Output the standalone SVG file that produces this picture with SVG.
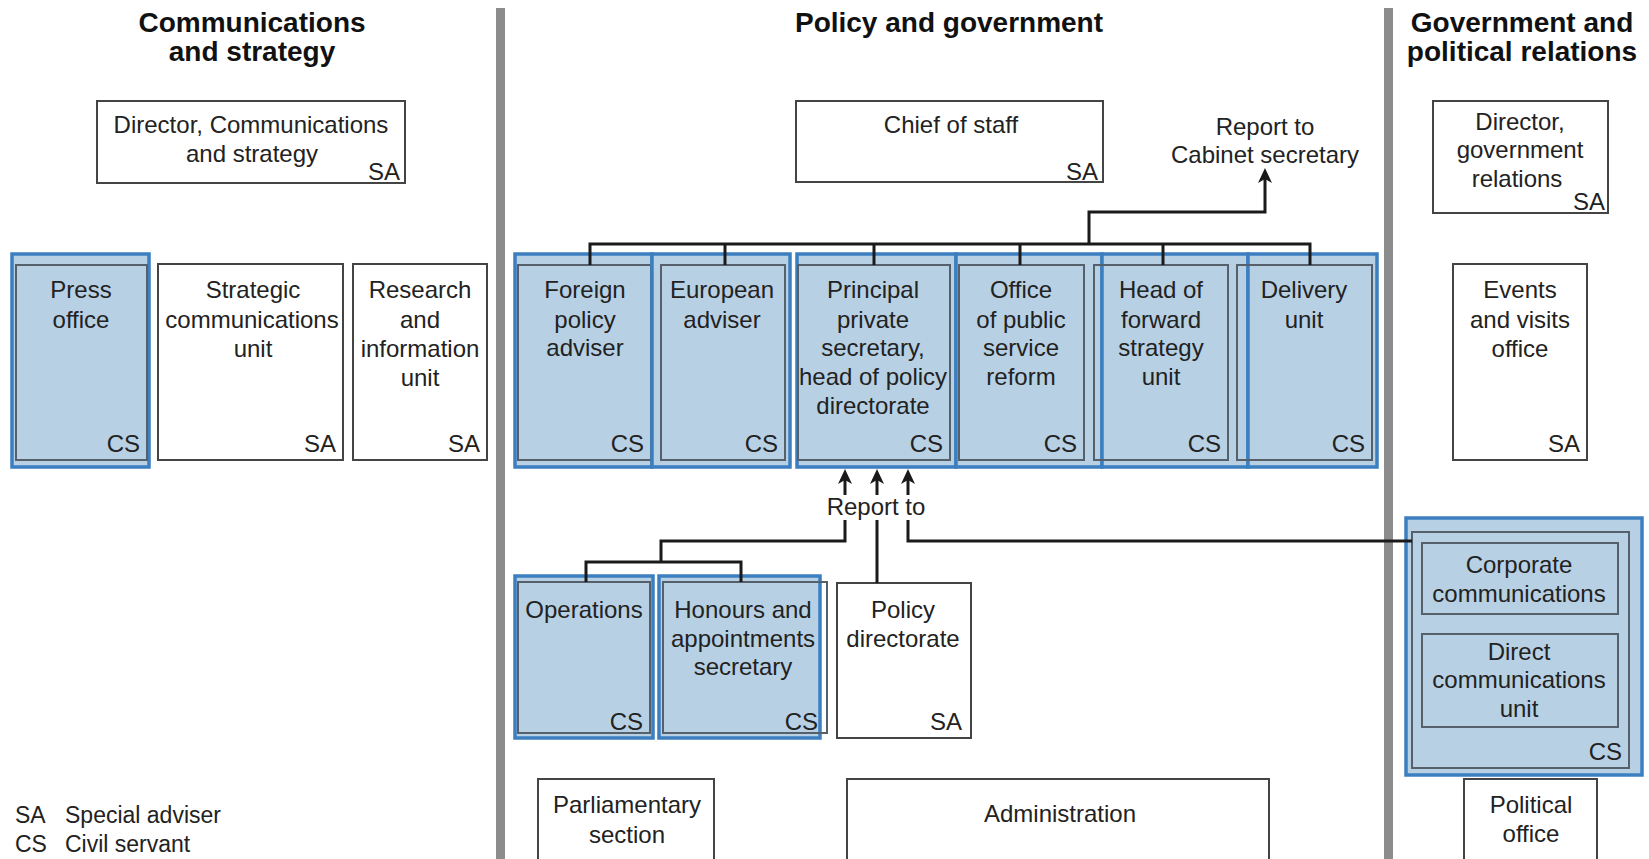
<svg xmlns="http://www.w3.org/2000/svg" width="1649" height="859" viewBox="0 0 1649 859">
<defs>
<style>
text{font-family:"Liberation Sans",Arial,sans-serif;font-size:24px;fill:#222;text-anchor:middle}
.h{font-weight:bold;font-size:28px;fill:#111}
.e{text-anchor:end}
.s{text-anchor:start}
.lg{font-size:23px}
.box{fill:#fff;stroke:#444;stroke-width:2}
.blue{fill:#b7d0e4;stroke:#3b7fc0;stroke-width:3.5}
.inner{fill:none;stroke:#56606a;stroke-width:2}
.con{fill:none;stroke:#1a1a1a;stroke-width:3}
.div{fill:#8c8c8c}
</style>
<marker id="arr" markerUnits="userSpaceOnUse" markerWidth="16" markerHeight="14" viewBox="0 0 16 14" refX="7" refY="7" orient="auto">
<path d="M0,0 L15,7 L0,14 L4,7 z" fill="#1a1a1a"/>
</marker>
</defs>
<rect width="1649" height="859" fill="#fff"/>

<g id="dividers">
<rect class="div" x="496" y="8" width="9" height="851"/>
<rect class="div" x="1384" y="8" width="9" height="851"/>
</g>

<g id="titles">
<text class="h" x="252" y="32">Communications</text>
<text class="h" x="252" y="61">and strategy</text>
<text class="h" x="949" y="32">Policy and government</text>
<text class="h" x="1522" y="32">Government and</text>
<text class="h" x="1522" y="61">political relations</text>
</g>

<!-- Communications and strategy -->
<g id="director-comms">
<rect class="box" x="97" y="101" width="308" height="82"/>
<text x="251" y="133">Director, Communications</text>
<text x="252" y="162">and strategy</text>
<text class="e" x="400" y="180">SA</text>
</g>
<g id="press-office">
<rect class="blue" x="12" y="254" width="137" height="213"/>
<rect class="inner" x="16" y="265" width="131" height="195"/>
<text x="81" y="298">Press</text>
<text x="81" y="328">office</text>
<text class="e" x="140" y="452">CS</text>
</g>
<g id="strategic-comms">
<rect class="box" x="158" y="264" width="185" height="196"/>
<text x="253" y="298">Strategic</text>
<text x="252" y="328">communications</text>
<text x="253" y="357">unit</text>
<text class="e" x="336" y="452">SA</text>
</g>
<g id="research">
<rect class="box" x="353" y="264" width="134" height="196"/>
<text x="420" y="298">Research</text>
<text x="420" y="328">and</text>
<text x="420" y="357">information</text>
<text x="420" y="386">unit</text>
<text class="e" x="480" y="452">SA</text>
</g>

<!-- Policy and government -->
<g id="chief-of-staff">
<rect class="box" x="796" y="101" width="307" height="81"/>
<text x="951" y="133">Chief of staff</text>
<text class="e" x="1098" y="180">SA</text>
</g>
<g id="report-cabinet">
<text x="1265" y="135">Report to</text>
<text x="1265" y="163">Cabinet secretary</text>
</g>
<g id="foreign-policy">
<rect class="blue" x="515" y="254" width="137" height="213"/>
<rect class="inner" x="518" y="265" width="133" height="195"/>
<text x="585" y="298">Foreign</text>
<text x="585" y="328">policy</text>
<text x="585" y="356">adviser</text>
<text class="e" x="644" y="452">CS</text>
</g>
<g id="european-adviser">
<rect class="blue" x="652" y="254" width="138" height="213"/>
<rect class="inner" x="661" y="265" width="124" height="195"/>
<text x="722" y="298">European</text>
<text x="722" y="328">adviser</text>
<text class="e" x="778" y="452">CS</text>
</g>
<g id="principal-private-secretary">
<rect class="blue" x="797" y="254" width="159" height="213"/>
<rect class="inner" x="798" y="265" width="152" height="195"/>
<text x="873" y="298">Principal</text>
<text x="873" y="328">private</text>
<text x="873" y="356">secretary,</text>
<text x="873" y="385">head of policy</text>
<text x="873" y="414">directorate</text>
<text class="e" x="943" y="452">CS</text>
</g>
<g id="office-public-service">
<rect class="blue" x="956" y="254" width="146" height="213"/>
<rect class="inner" x="959" y="265" width="125" height="195"/>
<text x="1021" y="298">Office</text>
<text x="1021" y="328">of public</text>
<text x="1021" y="356">service</text>
<text x="1021" y="385">reform</text>
<text class="e" x="1077" y="452">CS</text>
</g>
<g id="forward-strategy">
<rect class="blue" x="1102" y="254" width="146" height="213"/>
<rect class="inner" x="1094" y="265" width="134" height="195"/>
<text x="1161" y="298">Head of</text>
<text x="1161" y="328">forward</text>
<text x="1161" y="356">strategy</text>
<text x="1161" y="385">unit</text>
<text class="e" x="1221" y="452">CS</text>
</g>
<g id="delivery-unit">
<rect class="blue" x="1248" y="254" width="129" height="213"/>
<rect class="inner" x="1237" y="265" width="135" height="195"/>
<text x="1304" y="298">Delivery</text>
<text x="1304" y="328">unit</text>
<text class="e" x="1365" y="452">CS</text>
</g>
<g id="report-to">
<text x="876" y="515">Report to</text>
</g>
<g id="operations">
<rect class="blue" x="515" y="576" width="138" height="162"/>
<rect class="inner" x="518" y="582" width="132" height="151"/>
<text x="584" y="618">Operations</text>
<text class="e" x="643" y="730">CS</text>
</g>
<g id="honours">
<rect class="blue" x="659" y="576" width="161" height="162"/>
<rect class="inner" x="663" y="582" width="164" height="151"/>
<text x="743" y="618">Honours and</text>
<text x="743" y="647">appointments</text>
<text x="743" y="675">secretary</text>
<text class="e" x="818" y="730">CS</text>
</g>
<g id="policy-directorate">
<rect class="box" x="837" y="583" width="134" height="155"/>
<text x="903" y="618">Policy</text>
<text x="903" y="647">directorate</text>
<text class="e" x="962" y="730">SA</text>
</g>
<g id="parliamentary-section">
<rect class="box" x="538" y="779" width="176" height="100"/>
<text x="627" y="813">Parliamentary</text>
<text x="627" y="843">section</text>
</g>
<g id="administration">
<rect class="box" x="847" y="779" width="422" height="100"/>
<text x="1060" y="822">Administration</text>
</g>

<!-- Government and political relations -->
<g id="director-gov-relations">
<rect class="box" x="1433" y="101" width="175" height="112"/>
<text x="1520" y="130">Director,</text>
<text x="1520" y="158">government</text>
<text x="1517" y="187">relations</text>
<text class="e" x="1605" y="210">SA</text>
</g>
<g id="events-visits">
<rect class="box" x="1453" y="264" width="134" height="196"/>
<text x="1520" y="298">Events</text>
<text x="1520" y="328">and visits</text>
<text x="1520" y="357">office</text>
<text class="e" x="1580" y="452">SA</text>
</g>
<g id="corporate-block">
<rect class="blue" x="1406" y="518" width="236" height="257"/>
<rect class="inner" x="1412" y="532" width="217" height="236"/>
<text class="e" x="1622" y="760">CS</text>
</g>
<g id="corporate-communications">
<rect class="inner" x="1422" y="543" width="196" height="71"/>
<text x="1519" y="573">Corporate</text>
<text x="1519" y="602">communications</text>
</g>
<g id="direct-communications">
<rect class="inner" x="1422" y="634" width="196" height="93"/>
<text x="1519" y="660">Direct</text>
<text x="1519" y="688">communications</text>
<text x="1519" y="717">unit</text>
</g>
<g id="political-office">
<rect class="box" x="1464" y="779" width="133" height="100"/>
<text x="1531" y="813">Political</text>
<text x="1531" y="842">office</text>
</g>

<g id="legend">
<text class="s lg" x="15" y="823">SA</text>
<text class="s lg" x="65" y="823">Special adviser</text>
<text class="s lg" x="15" y="852">CS</text>
<text class="s lg" x="65" y="852">Civil servant</text>
</g>

<g id="connectors">
<path class="con" d="M590,265 V244 H1310 V265 M725,244 V265 M874,244 V265 M1020,244 V265 M1163,244 V265"/>
<path class="con" d="M1089,244 V212 H1265 V176" marker-end="url(#arr)"/>
<path class="con" d="M845,495 V477" marker-end="url(#arr)"/>
<path class="con" d="M877,495 V477" marker-end="url(#arr)"/>
<path class="con" d="M908,495 V477" marker-end="url(#arr)"/>
<path class="con" d="M845,520 V541 H661 V562 M586,582 V562 H741 V582"/>
<path class="con" d="M877,520 V583"/>
<path class="con" d="M908,520 V541 H1412"/>
</g>
</svg>
